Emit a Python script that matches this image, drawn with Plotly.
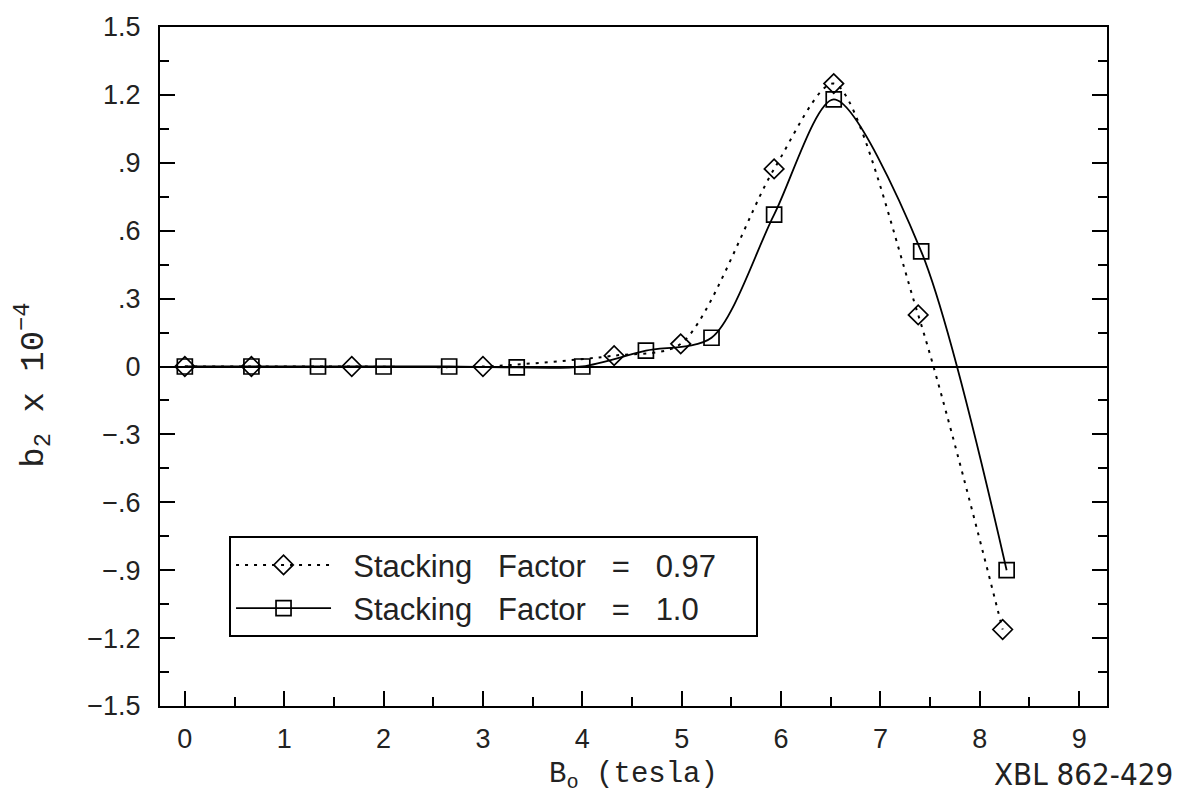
import plotly.graph_objects as go

# Stacking factor 0.97 (diamonds, dotted)
b0_097 = [0.0, 0.67, 1.68, 3.0, 4.32, 4.99, 5.93, 6.53, 7.38, 8.23]
b2_097 = [0.0, 0.0, 0.0, 0.0, 0.048, 0.10, 0.873, 1.25, 0.228, -1.162]

# Stacking factor 1.0 (squares, solid)
b0_100 = [0.0, 0.67, 1.34, 2.0, 2.66, 3.34, 4.0, 4.64, 5.30, 5.93, 6.53, 7.41, 8.27]
b2_100 = [0.0, 0.0, 0.0, 0.0, 0.0, -0.004, 0.0, 0.07, 0.127, 0.671, 1.18, 0.509, -0.90]

y_ticks = [-1.5, -1.2, -0.9, -0.6, -0.3, 0, 0.3, 0.6, 0.9, 1.2, 1.5]
y_ticktext = ["\u22121.5", "\u22121.2", "\u2212.9", "\u2212.6", "\u2212.3", "0", ".3", ".6", ".9", "1.2", "1.5"]
x_ticks = [0, 1, 2, 3, 4, 5, 6, 7, 8, 9]

NB = "\u00a0"
GAP = NB * 3
name1 = f"{NB}{NB}Stacking{GAP}Factor{GAP}={GAP}0.97{NB * 4}"
name2 = f"{NB}{NB}Stacking{GAP}Factor{GAP}={GAP}1.0"

fig = go.Figure()
fig.add_trace(go.Scatter(
    x=b0_097, y=b2_097, name=name1, mode="lines+markers",
    line=dict(color="black", width=2, dash="3px,6px", shape="spline", smoothing=0.8),
    marker=dict(symbol="diamond-open", size=15, color="black", line=dict(width=1.7)),
))
fig.add_trace(go.Scatter(
    x=b0_100, y=b2_100, name=name2, mode="lines+markers",
    line=dict(color="black", width=1.8, shape="spline", smoothing=0.8),
    marker=dict(symbol="square-open", size=15, color="black", line=dict(width=1.7)),
))

tickfont = dict(family="Liberation Sans, Arial, sans-serif", size=27, color="#222")

fig.update_layout(
    width=1180, height=795,
    margin=dict(l=160, r=73, t=22, b=89),
    paper_bgcolor="white", plot_bgcolor="white",
    showlegend=True,
    legend=dict(
        x=0.0729, y=0.25, xanchor="left", yanchor="top",
        bordercolor="black", borderwidth=2, bgcolor="white",
        font=dict(family="Liberation Sans, Arial, sans-serif", size=31, color="#222"),
        itemwidth=95, tracegroupgap=0,
    ),
    xaxis=dict(
        range=[-0.25, 9.28], tickvals=x_ticks, ticks="inside", ticklen=15, tickwidth=1.5,
        tickcolor="black", showline=True, linecolor="black", linewidth=2, mirror=True,
        showgrid=False, zeroline=False, tickfont=tickfont, ticklabelstandoff=8,
        minor=dict(dtick=0.5, ticks="inside", ticklen=9, tickwidth=1.5, tickcolor="black", showgrid=False),
        title=dict(text="B<sub>o</sub> (tesla)",
                   font=dict(family="Liberation Mono, Courier New, monospace", size=29, color="#222"),
                   standoff=8),
    ),
    yaxis=dict(
        range=[-1.5, 1.5], tickvals=y_ticks, ticktext=y_ticktext, ticks="inside", ticklen=15,
        tickwidth=1.5, tickcolor="black", showline=True, linecolor="black", linewidth=2,
        mirror="ticks", showgrid=False, zeroline=True, zerolinecolor="black", zerolinewidth=1.5,
        tickfont=tickfont, ticklabelstandoff=12, ticklabeloverflow="allow",
        minor=dict(dtick=0.15, ticks="inside", ticklen=9, tickwidth=1.5, tickcolor="black", showgrid=False),
    ),
    annotations=[
        dict(
            text="b<sub>2</sub> x 10<sup>\u22124</sup>", xref="paper", yref="paper",
            x=-0.135, y=0.472, xanchor="center", yanchor="middle", textangle=-90, showarrow=False,
            font=dict(family="Liberation Mono, Courier New, monospace", size=34, color="#222"),
        ),
        dict(
            text="XBL 862-429", xref="paper", yref="paper",
            x=0.9747, y=-0.130, xanchor="center", yanchor="bottom", showarrow=False,
            font=dict(family="DejaVu Sans Condensed, Liberation Sans Narrow, sans-serif", size=31, color="#222"),
        ),
    ],
)

fig.write_html("out.html", config={"displayModeBar": False},
               post_script="document.body.style.margin='0';")
